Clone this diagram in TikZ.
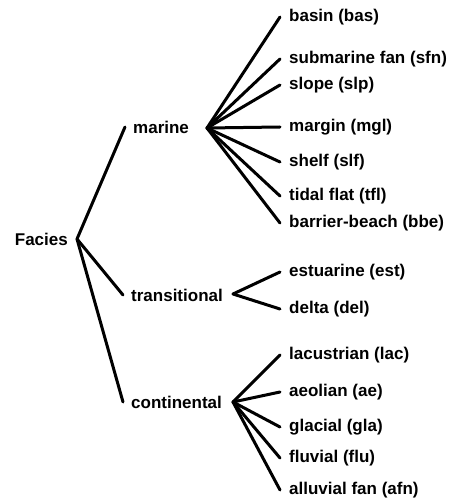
\documentclass[tikz,border=0pt]{standalone}
\usepackage{fontspec}
\setmainfont{Liberation Sans}

\begin{document}
\begin{tikzpicture}[
        x=1pt, y=-1pt,
        every node/.style={font=\fontsize{17}{20}\selectfont\bfseries, inner ysep=0pt},
        group/.style={anchor=west, inner xsep=8pt},
        leaf/.style={anchor=west, inner xsep=9pt},
        branch/.style={line width=3pt, line cap=round}
        ]
        \useasboundingbox (0,0) rectangle (461,502);
        % Nodes
        \node (facies) [anchor=east, inner xsep=9pt] at (77,239) {Facies};
        \node (marine) [group] at (125,127) {marine};
        \node (transitional) [group] at (123,295) {transitional};
        \node (continental) [group] at (123,402) {continental};

        \coordinate (marine-fork) at (207,128);
        \coordinate (trans-fork) at (233,294);
        \coordinate (cont-fork) at (233,402);

        \node (bas) [leaf] at (280,17) {basin (bas)};
        \node (sfn) [leaf] at (280,59) {submarine fan (sfn)};
        \node (slp) [leaf] at (280,85) {slope (slp)};
        \node (mgl) [leaf] at (280,127) {margin (mgl)};
        \node (slf) [leaf] at (280,162) {shelf (slf)};
        \node (tfl) [leaf] at (280,196) {tidal flat (tfl)};
        \node (bbe) [leaf] at (280,223) {barrier-beach (bbe)};
        \node (est) [leaf] at (280,272) {estuarine (est)};
        \node (del) [leaf] at (280,309) {delta (del)};
        \node (lac) [leaf] at (280,355) {lacustrian (lac)};
        \node (ae) [leaf] at (280,392) {aeolian (ae)};
        \node (gla) [leaf] at (280,427) {glacial (gla)};
        \node (flu) [leaf] at (280,458) {fluvial (flu)};
        \node (afn) [leaf] at (280,490) {alluvial fan (afn)};

        % Branches
        \draw[branch] (facies.east) -- (marine.west);
        \draw[branch] (facies.east) -- (transitional.west);
        \draw[branch] (facies.east) -- (continental.west);

        \draw[branch] (marine-fork) -- (bas.west);
        \draw[branch] (marine-fork) -- (sfn.west);
        \draw[branch] (marine-fork) -- (slp.west);
        \draw[branch] (marine-fork) -- (mgl.west);
        \draw[branch] (marine-fork) -- (slf.west);
        \draw[branch] (marine-fork) -- (tfl.west);
        \draw[branch] (marine-fork) -- (bbe.west);

        \draw[branch] (trans-fork) -- (est.west);
        \draw[branch] (trans-fork) -- (del.west);

        \draw[branch] (cont-fork) -- (lac.west);
        \draw[branch] (cont-fork) -- (ae.west);
        \draw[branch] (cont-fork) -- (gla.west);
        \draw[branch] (cont-fork) -- (flu.west);
        \draw[branch] (cont-fork) -- (afn.west);
    \end{tikzpicture}
\end{document}
